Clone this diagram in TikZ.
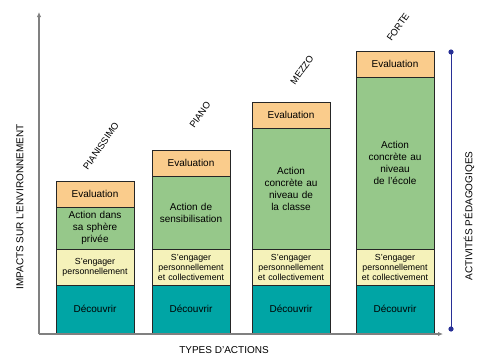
\documentclass[tikz,border=0pt]{standalone}
\usepackage{fontspec}
\setmainfont{Liberation Sans}
\usetikzlibrary{positioning,arrows.meta}
\definecolor{evalorange}{RGB}{250,204,140}
\definecolor{actiongreen}{RGB}{150,200,138}
\definecolor{engageryellow}{RGB}{245,242,186}
\definecolor{decouvrirteal}{RGB}{0,165,165}
\definecolor{axisgray}{RGB}{128,128,128}
\definecolor{activiteblue}{RGB}{40,48,150}

\tikzset{
  bloc/.style={draw=black!85,line width=0.6pt,minimum width=78pt,text width=76pt,align=center,inner sep=0pt,outer sep=0pt,font=\fontsize{10}{12}\selectfont},
  evalbloc/.style={bloc,fill=evalorange,minimum height=26pt},
  actionbloc/.style={bloc,fill=actiongreen},
  engagerbloc/.style={bloc,fill=engageryellow,minimum height=36pt,font=\fontsize{8.8}{10}\selectfont},
  decouvrirbloc/.style={bloc,fill=decouvrirteal,minimum height=48pt},
  niveau/.style={rotate=55,font=\fontsize{9.4}{11}\selectfont},
  titreaxe/.style={font=\fontsize{10}{12}\selectfont},
  axe/.style={draw=axisgray,line width=1.6pt,-{Latex[length=5pt,width=4.5pt]}}
}

\begin{document}
\begin{tikzpicture}[x=1pt,y=-1pt]
\useasboundingbox (0,0) rectangle (478,356);

% PIANISSIMO
\node[decouvrirbloc,anchor=south west] (decouvrir1) at (56,333) {Découvrir};
\node[engagerbloc,above=0pt of decouvrir1] (engager1) {S'engager\\personnellement};
\node[actionbloc,minimum height=42pt,above=0pt of engager1] (action1) {Action dans\\sa sphère\\privée};
\node[evalbloc,above=0pt of action1] (eval1) {Evaluation};
\node[niveau] (pianissimo) at (101,146) {PIANISSIMO};

% PIANO
\node[decouvrirbloc,anchor=south west] (decouvrir2) at (152,333) {Découvrir};
\node[engagerbloc,above=0pt of decouvrir2] (engager2) {S'engager\\personnellement\\et collectivement};
\node[actionbloc,minimum height=73pt,above=0pt of engager2] (action2) {Action de\\sensibilisation};
\node[evalbloc,above=0pt of action2] (eval2) {Evaluation};
\node[niveau] (piano) at (200,115) {PIANO};

% MEZZO
\node[decouvrirbloc,anchor=south west] (decouvrir3) at (252,333) {Découvrir};
\node[engagerbloc,above=0pt of decouvrir3] (engager3) {S'engager\\personnellement\\et collectivement};
\node[actionbloc,minimum height=121pt,above=0pt of engager3] (action3) {Action\\concrète au\\niveau de\\la classe};
\node[evalbloc,above=0pt of action3] (eval3) {Evaluation};
\node[niveau] (mezzo) at (302,70) {MEZZO};

% FORTE
\node[decouvrirbloc,anchor=south west] (decouvrir4) at (356,333) {Découvrir};
\node[engagerbloc,above=0pt of decouvrir4] (engager4) {S'engager\\personnellement\\et collectivement};
\node[actionbloc,minimum height=172pt,above=0pt of engager4] (action4) {Action\\concrète au\\niveau\\de l'école};
\node[evalbloc,above=0pt of action4] (eval4) {Evaluation};
\node[niveau] (forte) at (398,27) {FORTE};

% axes
\coordinate (origine) at (39,334);
\coordinate (hautaxe) at (39,12);
\coordinate (finaxe) at (443,334);
\draw[axe] (origine) -- (hautaxe);
\draw[axe] (origine) -- (finaxe);
\node[titreaxe,rotate=90] (impacts) at (20,207) {IMPACTS SUR L'ENVIRONNEMENT};
\node[titreaxe] (types) at (224,350) {TYPES D'ACTIONS};

% activites
\coordinate (activitehaut) at (451,52);
\coordinate (activitebas) at (451,329);
\draw[activiteblue,line width=0.9pt] (activitehaut) -- (activitebas);
\fill[activiteblue] (activitehaut) circle (2.6pt) (activitebas) circle (2.6pt);
\node[titreaxe,rotate=90] (activites) at (469,216) {ACTIVITÉS PÉDAGOGIQES};
\end{tikzpicture}
\end{document}
